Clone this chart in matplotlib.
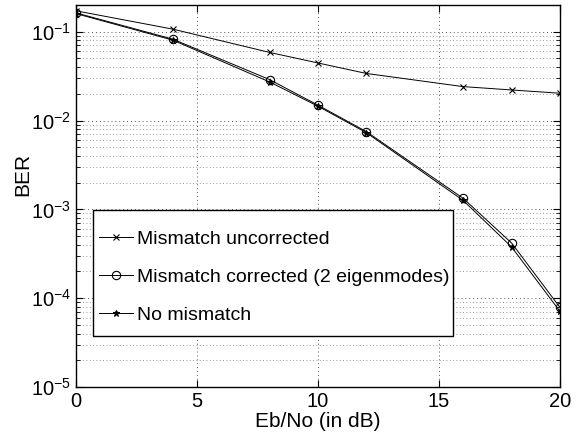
import matplotlib
matplotlib.use("Agg")
import matplotlib.pyplot as plt
from matplotlib.ticker import LogLocator, FixedLocator, NullFormatter
from matplotlib.patches import Rectangle

plt.rcParams['font.family'] = ['Liberation Sans', 'DejaVu Sans']
plt.rcParams['mathtext.fontset'] = 'custom'
plt.rcParams['mathtext.rm'] = 'Liberation Sans'
plt.rcParams['mathtext.it'] = 'Liberation Sans:italic'
plt.rcParams['mathtext.bf'] = 'Liberation Sans:bold'

snr_db = [0, 4, 8, 10, 12, 16, 18, 20]
ber_uncorrected = [0.172, 0.107, 0.0585, 0.0445, 0.0339, 0.0241, 0.0221, 0.0203]
ber_corrected = [0.163, 0.0825, 0.0289, 0.0149, 0.0075, 0.00133, 0.000418, 0.0000786]
ber_no_mismatch = [0.160, 0.0805, 0.0272, 0.0145, 0.0073, 0.00126, 0.000377, 0.000071]
labels = ["Mismatch uncorrected", "Mismatch corrected (2 eigenmodes)", "No mismatch"]

W, H = 586, 438
L, R, T, B = 76, 560, 5, 387
fig = plt.figure(figsize=(W/100, H/100), dpi=100)
ax = fig.add_axes([L/W, 1-B/H, (R-L)/W, (B-T)/H])

def ax_frac(px, py):
    return ((px - L) / (R - L), (B - py) / (B - T))

ax.semilogy(snr_db, ber_uncorrected, color='black', lw=0.7, marker='x', ms=4, mew=0.8, label=labels[0])
ax.semilogy(snr_db, ber_corrected, color='black', lw=0.7, marker='o', ms=6, mfc='none', mew=0.8, label=labels[1])
ax.semilogy(snr_db, ber_no_mismatch, color='black', lw=0.7, marker='*', ms=5, mew=0.8, label=labels[2])

ax.set_xlim(0, 20)
ax.set_ylim(1e-5, 0.2)
ax.xaxis.set_major_locator(FixedLocator([0, 5, 10, 15, 20]))
ax.yaxis.set_major_locator(LogLocator(base=10, numticks=10))
ax.yaxis.set_minor_locator(LogLocator(base=10, subs=range(2, 10), numticks=20))
ax.yaxis.set_minor_formatter(NullFormatter())

ax.grid(True, which='major', linestyle=(0, (1, 3)), color='#555555', lw=0.7)
ax.grid(True, which='minor', axis='y', linestyle=(0, (1, 3)), color='#777777', lw=0.6)

ax.tick_params(which='both', direction='in', top=True, right=True, labelsize=14.5)
ax.tick_params(which='major', length=5)
ax.tick_params(which='minor', length=3)
for s in ax.spines.values():
    s.set_linewidth(1.0)

ax.set_xlabel("Eb/No (in dB)", fontsize=15, labelpad=1)
ax.set_ylabel("BER", fontsize=15)
ax.yaxis.set_label_coords(*ax_frac(32, 174))

# legend frame (MATLAB-style box)
x0, y0 = ax_frac(93, 336)
x1, y1 = ax_frac(453, 210)
frame = Rectangle((x0, y0), x1 - x0, y1 - y0, transform=ax.transAxes,
                  facecolor='white', edgecolor='black', lw=1.0, zorder=4)
ax.add_patch(frame)

lx, ly = ax_frac(99, 324)
leg = ax.legend(loc='lower left', bbox_to_anchor=(lx, ly),
                fontsize=14, frameon=False,
                handlelength=1.75, handletextpad=0.2, labelspacing=1.05,
                borderpad=0.0, borderaxespad=0)
leg.set_zorder(5)

fig.savefig("out.png", dpi=100)
